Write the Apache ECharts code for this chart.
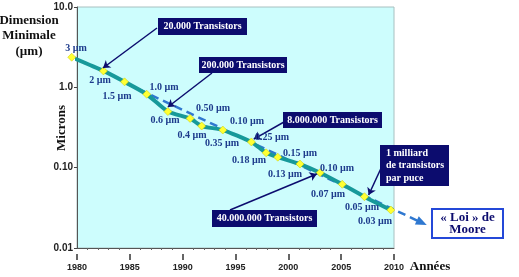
<!DOCTYPE html>
<html>
<head>
<meta charset="utf-8">
<script src="https://cdn.jsdelivr.net/npm/echarts@6/dist/echarts.min.js"></script>
<style>
  html, body { margin: 0; padding: 0; background: #fff; }
  #chart { width: 519px; height: 277px; }
</style>
</head>
<body>
<div id="chart"></div>
<script>
// années des points jaunes et dimension minimale (µm)
const years = [1979.5, 1982.5, 1984.5, 1986.6, 1988.6, 1990.7, 1991.8, 1993.8, 1996.5, 1997.9, 1999.0, 2001.1, 2003.0, 2005.1, 2007.2, 2009.7]
const microns = [2.37, 1.60, 1.17, 0.82, 0.50, 0.41, 0.33, 0.294, 0.209, 0.153, 0.135, 0.111, 0.0865, 0.0621, 0.0435, 0.0297]
// droite « Loi » de Moore : début et fin
const mooreYears = [1984.8, 2013.1]
const mooreMicrons = [1.10, 0.0193]
// graduations
const xTicks = [1980, 1985, 1990, 1995, 2000, 2005, 2010]
const yTicks = [0.01, 0.1, 1, 10]
const yTickLabels = ['0.01', '0.10', '1.0', '10.0']
// étiquettes de finesse de gravure
const sizeLabels = ['3 µm', '2 µm', '1.5 µm', '1.0 µm', '0.6 µm', '0.50 µm', '0.4 µm', '0.10 µm', '0.35 µm',
  '0.25 µm', '0.15 µm', '0.18 µm', '0.13 µm', '0.10 µm', '0.07 µm', '0.05 µm', '0.03 µm']
// bulles « transistors » et point visé (année, µm)
const calloutTexts = ['20.000 Transistors', '200.000 Transistors', '8.000.000 Transistors', '40.000.000 Transistors', '1 milliard\nde transistors\npar puce']
const calloutTargets = [[1982.46, 1.74], [1988.6, 0.569], [1996.73, 0.227], [2002.69, 0.0834], [2007.6, 0.0457]]

// mise en page (pixels)
const labelSpots = [[76, 48], [100, 80], [117, 96], [164, 87], [165, 120], [213, 108], [192, 135], [247, 121], [222, 143],
  [272, 137], [300, 153], [249, 160], [285, 174], [337, 168], [328, 194], [362, 207], [375, 221]]
const calloutBoxes = [[158, 18, 89, 17], [199, 57, 88, 16], [283, 112, 99, 16], [212, 210, 105, 17], [380, 145, 69, 41]]
const calloutStarts = [[157, 28], [212, 73], [284, 122], [230, 210], [383, 164]]

const serif = '"Liberation Serif", "Times New Roman", serif'
const sans = '"Liberation Sans", Arial, sans-serif'
const navy = '#0c0c6e'
const labelBlue = '#1d3b8c'
const mooreBlue = '#2f78d0'

const chart = echarts.init(document.getElementById('chart'))

const arrowLines = calloutTargets.map((c, i) => [
  { x: calloutStarts[i][0], y: calloutStarts[i][1], symbol: 'none' },
  { coord: c, symbol: 'arrow', symbolSize: 7 }
])

chart.setOption({
  animation: false,
  grid: {
    left: 77, right: 125, top: 7, bottom: 29,
    show: true, backgroundColor: '#cdfdfd', borderColor: '#a8c0c0', borderWidth: 1
  },
  xAxis: [
    {
      type: 'value', min: xTicks[0], max: xTicks[xTicks.length - 1], interval: 5,
      axisLine: { lineStyle: { color: '#555', width: 1 } },
      axisTick: { show: false },
      minorTick: { show: true, splitNumber: 5, length: 2, lineStyle: { color: '#666' } },
      axisLabel: { show: false },
      splitLine: { show: false }
    },
    {
      type: 'value', min: xTicks[0], max: xTicks[xTicks.length - 1], interval: 5,
      position: 'bottom', offset: 6,
      axisLine: { show: false },
      axisTick: { show: true, length: 6, lineStyle: { color: '#333', width: 1.5 } },
      axisLabel: { show: true, margin: 9, color: '#222', fontFamily: sans, fontWeight: 'bold', fontSize: 9, formatter: v => String(v) },
      splitLine: { show: false }
    }
  ],
  yAxis: {
    type: 'log', logBase: 10, min: yTicks[0], max: yTicks[yTicks.length - 1],
    axisLine: { show: true, lineStyle: { color: '#555', width: 1 } },
    axisTick: { show: true, length: 3, lineStyle: { color: '#444' } },
    axisLabel: {
      margin: 4, color: '#222', fontFamily: sans, fontWeight: 'bold', fontSize: 10,
      formatter: v => {
        const i = yTicks.findIndex(t => Math.abs(Math.log10(t) - Math.log10(v)) < 1e-6)
        return i >= 0 ? yTickLabels[i] : ''
      }
    },
    splitLine: { show: false }
  },
  series: [
    {
      name: 'Dimension', type: 'line', clip: false, z: 3,
      data: years.map((y, i) => [y, microns[i]]),
      smooth: 0.2,
      symbol: 'diamond', symbolSize: 8,
      itemStyle: { color: '#ffff33', borderColor: '#c9c900', borderWidth: 0.5 },
      lineStyle: { color: '#17999a', width: 4 },
      markLine: {
        silent: true, animation: false, z: 8,
        label: { show: false },
        lineStyle: { color: navy, width: 1.5, type: 'solid' },
        data: arrowLines
      }
    }
  ]
})

const graphics = []
// droite de Moore, placée par les axes du graphique
const p0 = chart.convertToPixel({ xAxisIndex: 0, yAxisIndex: 0 }, [mooreYears[0], mooreMicrons[0]])
const p1 = chart.convertToPixel({ xAxisIndex: 0, yAxisIndex: 0 }, [mooreYears[1], mooreMicrons[1]])
const ang = Math.atan2(p1[1] - p0[1], p1[0] - p0[0])
const head = 11
const ca = Math.cos(ang), sa = Math.sin(ang)
const base = [p1[0] - head * ca, p1[1] - head * sa]
graphics.push({
  type: 'line', z: 2,
  shape: { x1: p0[0], y1: p0[1], x2: base[0] + 2 * ca, y2: base[1] + 2 * sa },
  style: { stroke: mooreBlue, lineWidth: 2.5, lineDash: [8, 5] }
})
graphics.push({
  type: 'polygon', z: 2,
  shape: { points: [p1, [base[0] + 4.5 * sa, base[1] - 4.5 * ca], [base[0] - 4.5 * sa, base[1] + 4.5 * ca]] },
  style: { fill: mooreBlue }
})
graphics.push({
  type: 'text', x: 29, y: 36,
  style: { text: 'Dimension\nMinimale\n(µm)', font: 'bold 13px ' + serif, fill: '#111', textAlign: 'center', textVerticalAlign: 'middle', lineHeight: 15.5 }
})
graphics.push({
  type: 'text', x: 62, y: 128, rotation: Math.PI / 2,
  style: { text: 'Microns', font: 'bold 13px ' + serif, fill: '#111', textAlign: 'center', textVerticalAlign: 'middle' }
})
graphics.push({
  type: 'text', x: 430, y: 267,
  style: { text: 'Années', font: 'bold 13px ' + serif, fill: '#111', textAlign: 'center', textVerticalAlign: 'middle' }
})
sizeLabels.forEach((t, i) => {
  graphics.push({
    type: 'text', x: labelSpots[i][0], y: labelSpots[i][1], z: 10,
    style: { text: t, font: 'bold 10px ' + serif, fill: labelBlue, textAlign: 'center', textVerticalAlign: 'middle' }
  })
})
calloutTexts.forEach((t, i) => {
  const b = calloutBoxes[i]
  const multi = t.indexOf('\n') >= 0
  graphics.push({ type: 'rect', z: 10, shape: { x: b[0], y: b[1], width: b[2], height: b[3] }, style: { fill: navy } })
  graphics.push({
    type: 'text', z: 11,
    x: multi ? b[0] + 6 : b[0] + b[2] / 2, y: b[1] + b[3] / 2,
    style: { text: t, font: 'bold 10px ' + serif, fill: '#fff', textAlign: multi ? 'left' : 'center', textVerticalAlign: 'middle', lineHeight: 12.5 }
  })
})
graphics.push({ type: 'rect', z: 10, shape: { x: 432, y: 209, width: 71, height: 29 }, style: { fill: '#fff', stroke: '#2448d8', lineWidth: 2 } })
graphics.push({
  type: 'text', z: 11, x: 467.5, y: 223.5,
  style: { text: '« Loi » de\nMoore', font: 'bold 13px ' + serif, fill: navy, textAlign: 'center', textVerticalAlign: 'middle', lineHeight: 11.5 }
})

chart.setOption({ graphic: graphics })
</script>
</body>
</html>
